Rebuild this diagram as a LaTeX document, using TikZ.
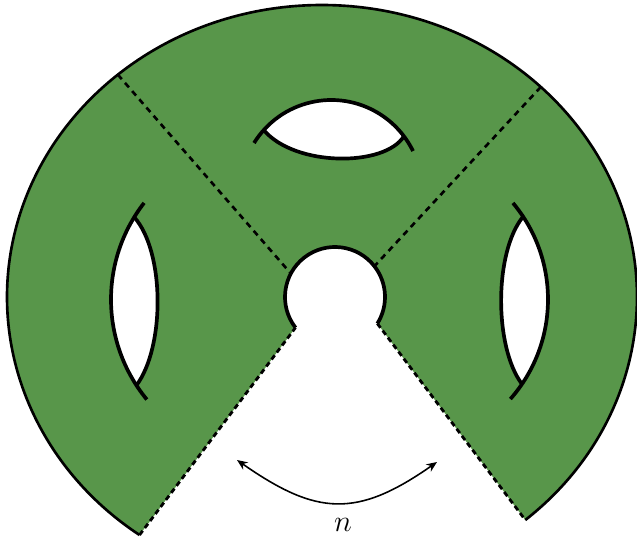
\documentclass[tikz,border=0pt]{standalone}
\usepackage{tikz}
\usetikzlibrary{arrows.meta,calc}
\usepackage{xcolor}
\definecolor{SurfGreen}{RGB}{88,150,74}

\tikzset{
  rim line/.style={line width=1.5pt},
  hole line/.style={line width=2.1pt},
  cut line/.style={line width=1.5pt,dash pattern=on 3.4pt off 2.8pt},
  glue line/.style={line width=1.6pt,dash pattern=on 3pt off 2pt}
}

\begin{document}
\begin{tikzpicture}[x=0.02cm,y=0.02cm]
  \useasboundingbox (0,0) rectangle (637,542);
  % centres
  \coordinate (O) at (322,245);
  \coordinate (C) at (335,245);
  % wedge corners
  \coordinate (tipL) at ($(O)+(234.6:315 and 292)$);
  \coordinate (tipR) at ($(O)+(-49.8:315 and 292)$);
  \coordinate (wedgeL) at ($(C)+(217.8:50)$);
  \coordinate (wedgeR) at ($(C)+(-32.1:50)$);
  % surface
  \fill[SurfGreen] (tipL) -- (wedgeL) arc[start angle=217.8,end angle=-32.1,radius=50]
    -- (tipR) arc[start angle=-49.8,end angle=234.6,x radius=315,y radius=292] -- cycle;
  \draw[rim line] (tipR) arc[start angle=-49.8,end angle=234.6,x radius=315,y radius=292];
  \draw[hole line] (wedgeL) arc[start angle=217.8,end angle=-32.1,radius=50];
  % glued edges
  \draw[glue line] (tipL) -- (wedgeL);
  \draw[glue line] (wedgeR) -- (tipR);
  % cuts
  \coordinate (cutLo) at ($(O)+(130.4:315 and 292)$);
  \coordinate (cutLi) at ($(C)+(152:50)$);
  \coordinate (cutRo) at ($(O)+(46:315 and 292)$);
  \coordinate (cutRi) at ($(C)+(38:50)$);
  \draw[cut line] (cutLo) -- (cutLi);
  \draw[cut line] (cutRo) -- (cutRi);
  % top hole
  \coordinate (topO) at (331.3,351.1);
  \coordinate (topA) at ($(topO)+(138:90.9)$);
  \coordinate (topB) at ($(topO)+(37:90.9)$);
  \fill[white] (topA) arc[start angle=138,end angle=37,radius=90.9]
    .. controls (385,375) and (295,375) .. (topA) -- cycle;
  \draw[hole line] ($(topO)+(148.2:90.9)$) arc[start angle=148.2,end angle=26,radius=90.9];
  \draw[hole line] (topA) .. controls (295,375) and (385,375) .. (topB);
  % left hole
  \coordinate (leftO) at (268.6,242.5);
  \coordinate (leftA) at ($(leftO)+(148.5:157.6)$);
  \coordinate (leftB) at ($(leftO)+(213:157.6)$);
  \fill[white] (leftA) arc[start angle=148.5,end angle=213,radius=157.6]
    .. controls (165,195) and (165,290) .. (leftA) -- cycle;
  \draw[hole line] ($(leftO)+(142.2:157.6)$) arc[start angle=142.2,end angle=219.4,radius=157.6];
  \draw[hole line] (leftA) .. controls (165,290) and (165,195) .. (leftB);
  % right hole
  \coordinate (rightO) at (397.5,242.5);
  \coordinate (rightA) at ($(rightO)+(33.4:150.5)$);
  \coordinate (rightB) at ($(rightO)+(-34.2:150.5)$);
  \fill[white] (rightB) arc[start angle=-34.2,end angle=33.4,radius=150.5]
    .. controls (494,290) and (494,195) .. (rightB) -- cycle;
  \draw[hole line] ($(rightO)+(-41.4:150.5)$) arc[start angle=-41.4,end angle=39.9,radius=150.5];
  \draw[hole line] (rightA) .. controls (494,290) and (494,195) .. (rightB);
  % arrow
  \coordinate (arrL) at (237,82);
  \coordinate (arrR) at (437,80);
  \draw[{Stealth[length=6pt,width=5pt]}-{Stealth[length=6pt,width=5pt]},line width=0.9pt]
    (arrL) .. controls (317,26) and (357,24) .. (arrR);
  \node[font=\LARGE] (nlabel) at (343,17) {$n$};
\end{tikzpicture}
\end{document}
